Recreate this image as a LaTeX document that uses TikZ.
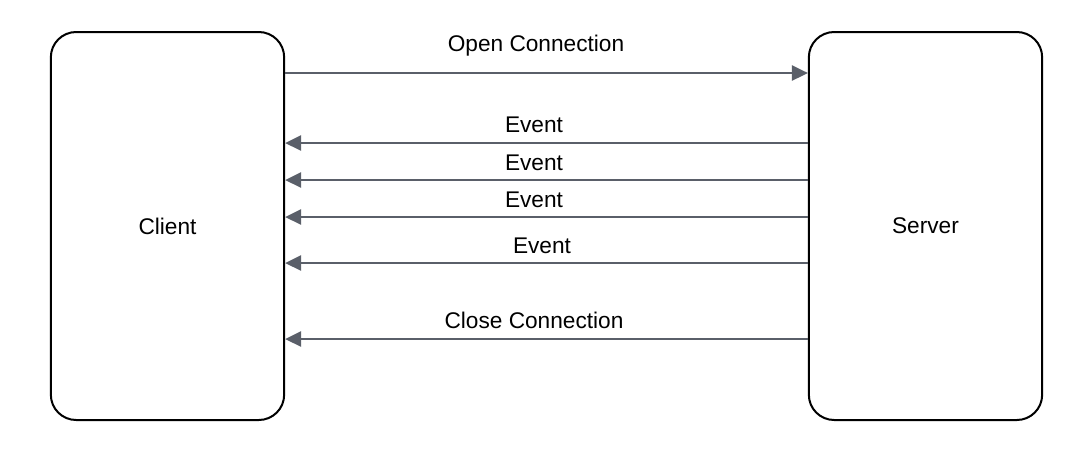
\documentclass[tikz,border=0pt]{standalone}
\usepackage{fontspec}
\setmainfont{Liberation Sans}
\usetikzlibrary{arrows.meta}
\definecolor{msggray}{HTML}{5A5F69}
\begin{document}
\begin{tikzpicture}[x=0.75pt, y=-0.75pt,
	party/.style={draw, line width=1.5pt, rounded corners=19pt, minimum width=175pt, minimum height=291pt, font=\fontsize{17}{20}\selectfont},
	msg/.style={msggray, line width=1.5pt, -{Triangle[length=12pt, width=11.5pt]}},
	lbl/.style={anchor=base, inner sep=0pt, font=\fontsize{17}{20}\selectfont}]
	\useasboundingbox (0,0) rectangle (1078,451);

	\node[party] (Client) at (167.5,226) {Client};
	\node[party] (Server) at (925.5,226) {Server};

	\draw[msg] (Client.east |- 0,73) -- (Server.west |- 0,73);
	\node[lbl] (open) at (536,51) {Open Connection};

	\draw[msg] (Server.west |- 0,143) -- (Client.east |- 0,143);
	\node[lbl] (ev1) at (534,132) {Event};
	\draw[msg] (Server.west |- 0,180) -- (Client.east |- 0,180);
	\node[lbl] (ev2) at (534,170) {Event};
	\draw[msg] (Server.west |- 0,217) -- (Client.east |- 0,217);
	\node[lbl] (ev3) at (534,207) {Event};
	\draw[msg] (Server.west |- 0,263) -- (Client.east |- 0,263);
	\node[lbl] (ev4) at (542,253) {Event};

	\draw[msg] (Server.west |- 0,339) -- (Client.east |- 0,339);
	\node[lbl] (close) at (534,328) {Close Connection};
\end{tikzpicture}
\end{document}
